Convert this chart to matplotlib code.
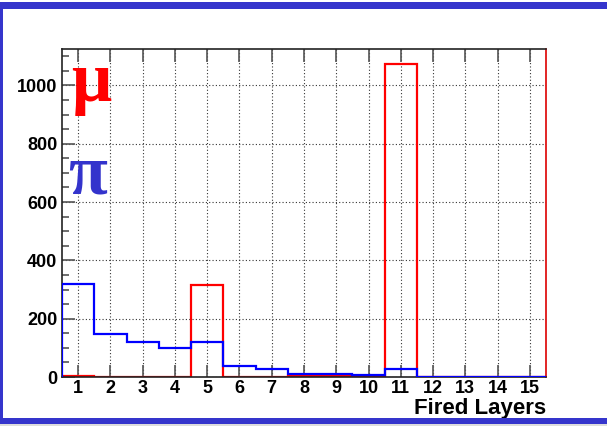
import numpy as np
import matplotlib
matplotlib.use("Agg")
import matplotlib.pyplot as plt
from matplotlib.ticker import MultipleLocator

# fired layers 1..15
layers = np.arange(1, 16)
pion = [320, 148, 119, 100, 119, 37, 29, 9, 11, 7, 29, 0, 0, 0, 0]
muon = [5, 0, 0, 0, 314, 0, 0, 2, 2, 0, 1073, 0, 0, 0, 0]

W, H = 607, 426
fig = plt.figure(figsize=(W / 100, H / 100), dpi=100)

# slide frame
fig.add_artist(plt.Rectangle((0, 1 - 9 / H), 1, 7 / H, transform=fig.transFigure,
                             color="#3535cc", lw=0))
fig.add_artist(plt.Rectangle((0, 2 / H), 1, 6 / H, transform=fig.transFigure,
                             color="#3535cc", lw=0))
fig.add_artist(plt.Rectangle((0, 0), 1, 2 / H, transform=fig.transFigure,
                             color="#dddddd", lw=0))
fig.add_artist(plt.Rectangle((0, 2 / H), 3 / W, 1 - 11 / H, transform=fig.transFigure,
                             color="#3535cc", lw=0))

ax = fig.add_axes([62 / W, 1 - 377 / H, (546 - 62) / W, (377 - 49) / H])

edges = np.arange(0.5, 16.0, 1.0)
ax.stairs(pion, edges, color="#0000ff", lw=1.6, zorder=3)
ax.stairs(muon, edges, color="#ff0000", lw=1.6, zorder=2)

ax.set_xlim(0.5, 15.5)
ax.set_ylim(0, 1125)
ax.set_xticks(layers)
ax.yaxis.set_major_locator(MultipleLocator(200))
ax.yaxis.set_minor_locator(MultipleLocator(50))
ax.grid(True, which="major", ls=(0, (1, 2)), color="#333333", lw=0.8)

ax.tick_params(axis="both", which="both", direction="in", color="#555555",
               top=True, labelsize=13, width=1.2)
ax.tick_params(axis="both", which="major", length=9)
ax.tick_params(axis="y", which="minor", length=5)
ax.tick_params(axis="x", pad=2.5)
for lab in ax.get_xticklabels() + ax.get_yticklabels():
    lab.set_fontweight("bold")
    lab.set_fontfamily("Liberation Sans")

for s in ax.spines.values():
    s.set_color("#222222")
    s.set_linewidth(1.2)
ax.spines["right"].set_color("#dd0000")

ax.set_xlabel("Fired Layers", fontsize=16, fontweight="bold", family="Liberation Sans")
ax.xaxis.set_label_coords(1.0, -0.063)
ax.xaxis.label.set_ha("right")
ax.xaxis.label.set_va("top")

fig.text(71 / W, 1 - 101 / H, "μ", color="#ff0000", fontsize=51, fontweight="bold",
         family="Liberation Serif", va="baseline")
fig.text(68 / W, 1 - 194 / H, "π", color="#3333cc", fontsize=51, fontweight="bold",
         family="Liberation Serif", va="baseline")

fig.savefig("out.png", dpi=100)
